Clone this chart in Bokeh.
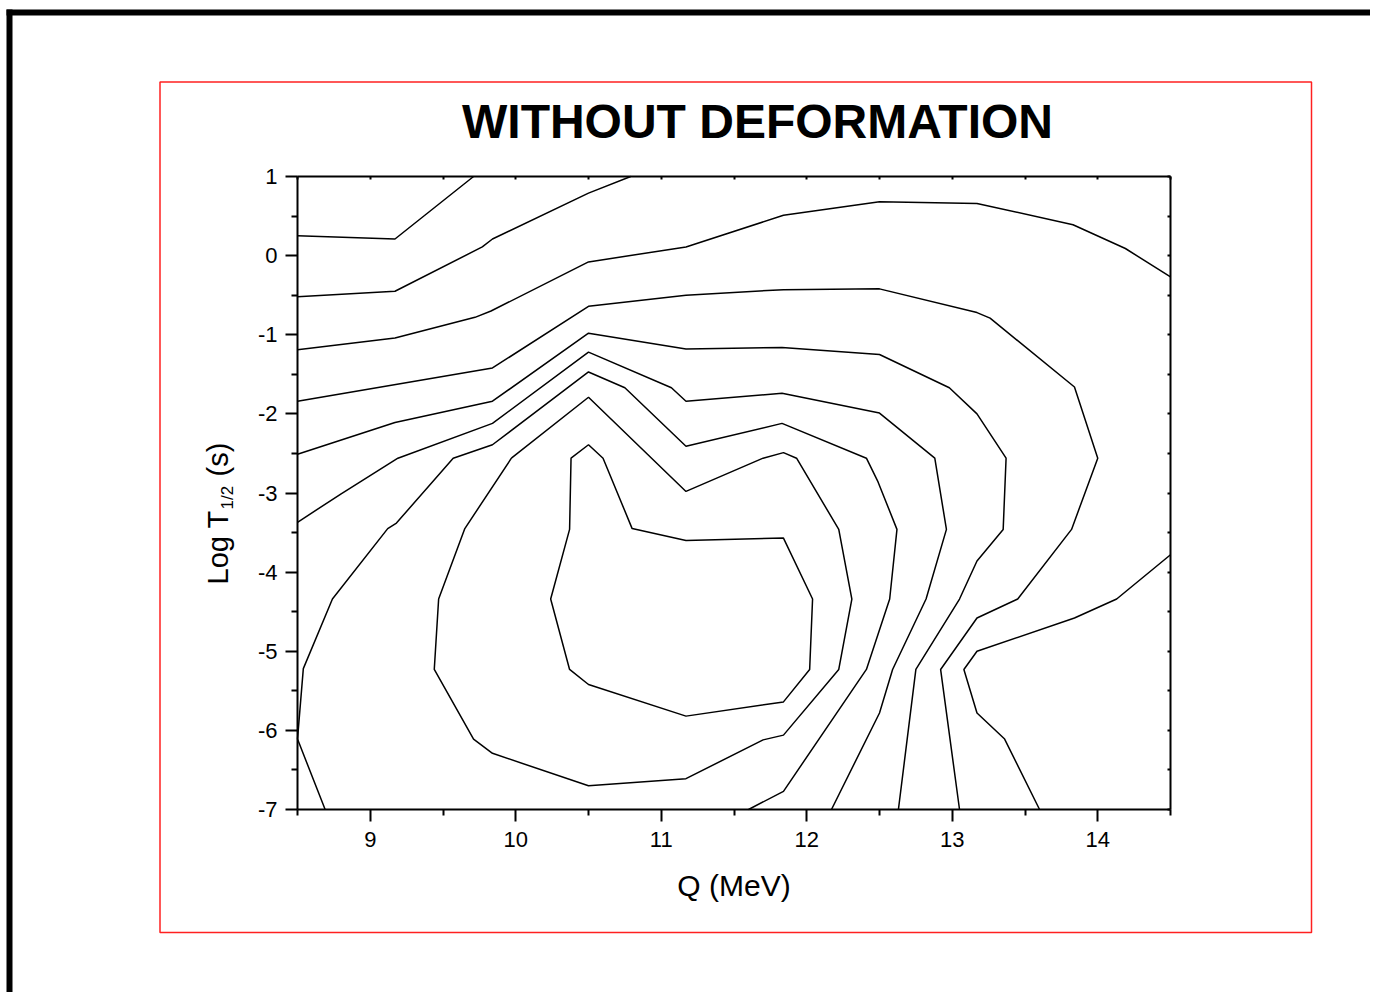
import math
from bokeh.plotting import figure
from bokeh.models import LinearAxis, FixedTicker, Range1d, CustomJSTickFormatter
from bokeh.core.properties import value
from bokeh.embed import file_html
from bokeh.resources import INLINE

# ---------------- data ----------------
TITLE = "WITHOUT DEFORMATION"
X_LABEL = "Q (MeV)"
Y_LABEL_MAIN = "Log T"
Y_LABEL_SUB = "1/2"
Y_LABEL_UNIT = "(s)"

Q_MIN, Q_MAX = 8.5, 14.5
LOGT_MIN, LOGT_MAX = -7.0, 1.0
X_MAJOR = [9, 10, 11, 12, 13, 14]
X_MINOR = [8.5, 9.5, 10.5, 11.5, 12.5, 13.5, 14.5]
Y_MAJOR = [-7, -6, -5, -4, -3, -2, -1, 0, 1]
Y_MINOR = [-6.5, -5.5, -4.5, -3.5, -2.5, -1.5, -0.5, 0.5]

# contour lines (Q in MeV, log T1/2 in s)
q_c1 = [8.50, 9.17, 9.71]
t_c1 = [0.25, 0.21, 1.00]

q_c2 = [8.50, 9.17, 9.77, 9.84, 10.50, 10.79]
t_c2 = [-0.52, -0.45, 0.11, 0.21, 0.79, 1.00]

q_c3 = [8.50, 9.17, 9.72, 9.83, 10.50, 11.17, 11.84, 12.50, 13.17, 13.83, 14.19, 14.50]
t_c3 = [-1.19, -1.04, -0.78, -0.70, -0.08, 0.11, 0.51, 0.68, 0.66, 0.39, 0.09, -0.27]

q_c4 = [8.50, 9.84, 10.50, 11.17, 11.84, 12.50, 13.17, 13.26, 13.84, 14.00, 13.82, 13.45, 13.17, 12.92, 13.05]
t_c4 = [-1.84, -1.42, -0.64, -0.50, -0.43, -0.42, -0.72, -0.79, -1.66, -2.56, -3.46, -4.34, -4.58, -5.23, -7.00]

q_c5 = [8.50, 9.17, 9.84, 10.50, 11.17, 11.83, 12.50, 12.98, 13.17, 13.37, 13.35, 13.17, 13.05, 12.75, 12.63]
t_c5 = [-2.51, -2.11, -1.84, -0.98, -1.18, -1.16, -1.25, -1.67, -2.00, -2.56, -3.46, -3.86, -4.34, -5.23, -7.00]

q_c6 = [8.50, 8.80, 9.19, 9.84, 10.50, 11.07, 11.17, 11.83, 12.50, 12.88, 12.96, 12.82, 12.59, 12.50, 12.17]
t_c6 = [-3.37, -3.01, -2.56, -2.12, -1.22, -1.67, -1.84, -1.74, -1.99, -2.56, -3.46, -4.34, -5.23, -5.78, -7.00]

q_c7 = [8.69, 8.50, 8.54, 8.74, 9.12, 9.18, 9.57, 9.84, 10.50, 10.75, 11.17, 11.83, 12.41, 12.49, 12.62, 12.57, 12.41, 11.84, 11.60]
t_c7 = [-7.00, -6.11, -5.22, -4.34, -3.45, -3.38, -2.56, -2.39, -1.47, -1.67, -2.41, -2.12, -2.56, -2.86, -3.46, -4.34, -5.23, -6.77, -7.00]

q_c8 = [9.97, 10.50, 11.17, 11.70, 11.84, 11.93, 12.22, 12.31, 12.22, 11.84, 11.70, 11.17, 10.50, 9.84, 9.71, 9.44, 9.47, 9.65, 9.97]
t_c8 = [-2.56, -1.79, -2.98, -2.56, -2.49, -2.56, -3.46, -4.34, -5.23, -6.06, -6.12, -6.61, -6.70, -6.29, -6.11, -5.23, -4.34, -3.45, -2.56]

q_c9 = [10.37, 10.38, 10.50, 10.60, 10.80, 11.17, 11.84, 12.04, 12.02, 11.84, 11.17, 10.50, 10.37, 10.24, 10.37]
t_c9 = [-3.46, -2.56, -2.39, -2.56, -3.45, -3.60, -3.57, -4.34, -5.23, -5.64, -5.82, -5.42, -5.23, -4.34, -3.46]

q_c10 = [14.50, 14.13, 13.84, 13.17, 13.08, 13.17, 13.36, 13.60]
t_c10 = [-3.78, -4.34, -4.58, -5.00, -5.23, -5.78, -6.11, -7.00]

CONTOURS = [(q_c1, t_c1), (q_c2, t_c2), (q_c3, t_c3), (q_c4, t_c4), (q_c5, t_c5),
            (q_c6, t_c6), (q_c7, t_c7), (q_c8, t_c8), (q_c9, t_c9), (q_c10, t_c10)]

# ---------------- layout (page pixels) ----------------
W, H = 1370, 992          # canvas size
OX, OY = 0, 0             # canvas origin on the page
FL, FR, FT, FB = 297, 1170, 176, 809   # plot box on the page
SX = (FR - FL) / (Q_MAX - Q_MIN)
SY = (FB - FT) / (LOGT_MAX - LOGT_MIN)


def dx(px):
    return Q_MIN + (px - FL) / SX


def dy(py):
    return LOGT_MAX - (py - FT) / SY


FONT = "Liberation Sans"

p = figure(width=W, height=H, output_backend="svg", toolbar_location=None,
           title=None, x_axis_type=None, y_axis_type=None,
           x_range=Range1d(dx(OX), dx(OX + W)), y_range=Range1d(dy(OY + H), dy(OY)),
           min_border=0, min_border_left=0, min_border_right=0,
           min_border_top=0, min_border_bottom=0)
p.outline_line_color = None
p.background_fill_color = "white"
p.border_fill_color = "white"

# page decorations: black page edges and red graph-page rectangle
p.quad(left=[dx(6)], right=[dx(OX + W)], top=[dy(9)], bottom=[dy(15)],
       fill_color="black", line_color=None)
p.quad(left=[dx(6)], right=[dx(12)], top=[dy(9)], bottom=[dy(OY + H)],
       fill_color="black", line_color=None)
p.quad(left=[dx(159.5)], right=[dx(1311)], top=[dy(81.5)], bottom=[dy(932)],
       fill_color=None, line_color="#ff2020", line_width=1.5)

# contour lines
for qs, ts in CONTOURS:
    p.line(qs, ts, line_color="black", line_width=1.5)

blank = CustomJSTickFormatter(code="return ''")


def style(ax):
    ax.axis_line_color = "black"
    ax.axis_line_width = 2
    ax.major_tick_line_color = "black"
    ax.minor_tick_line_color = "black"
    ax.major_tick_line_width = 2
    ax.minor_tick_line_width = 2
    ax.major_label_text_color = "black"
    ax.major_label_text_font = FONT
    ax.major_label_text_font_size = "22px"
    ax.axis_label_text_color = "black"
    ax.axis_label_text_font = FONT
    ax.axis_label_text_font_style = "normal"
    ax.axis_label_text_font_size = "30px"


# bottom axis
xb = LinearAxis(fixed_location=LOGT_MIN, bounds=(Q_MIN, Q_MAX),
                ticker=FixedTicker(ticks=X_MAJOR, minor_ticks=X_MINOR),
                axis_label=X_LABEL,
                major_label_overrides={v: str(v) for v in X_MAJOR})
style(xb)
xb.major_tick_out, xb.major_tick_in = 12, 0
xb.minor_tick_out, xb.minor_tick_in = 6, 0
xb.major_label_standoff = 10
xb.axis_label_standoff = 19
p.add_layout(xb, "below")

# left axis
yl = LinearAxis(fixed_location=Q_MIN, bounds=(LOGT_MIN, LOGT_MAX),
                ticker=FixedTicker(ticks=Y_MAJOR, minor_ticks=Y_MINOR),
                major_label_overrides={v: str(v) for v in Y_MAJOR})
style(yl)
yl.major_tick_out, yl.major_tick_in = 12, 0
yl.minor_tick_out, yl.minor_tick_in = 6, 0
yl.major_label_standoff = 8
p.add_layout(yl, "left")

# top axis (ticks inside, no labels)
xt = LinearAxis(fixed_location=LOGT_MAX, bounds=(Q_MIN, Q_MAX),
                ticker=FixedTicker(ticks=sorted(X_MAJOR + X_MINOR)), formatter=blank)
style(xt)
xt.major_tick_out, xt.major_tick_in = 0, 3
xt.minor_tick_out, xt.minor_tick_in = 0, 0
p.add_layout(xt, "above")

# right axis (ticks inside, no labels)
yr = LinearAxis(fixed_location=Q_MAX, bounds=(LOGT_MIN, LOGT_MAX),
                ticker=FixedTicker(ticks=sorted(Y_MAJOR + Y_MINOR)), formatter=blank)
style(yr)
yr.major_tick_out, yr.major_tick_in = 0, 3
yr.minor_tick_out, yr.minor_tick_in = 0, 0
p.add_layout(yr, "right")

# title
p.text(x=[dx(757)], y=[dy(121)], text=[TITLE],
       text_font=value(FONT), text_font_style="bold", text_font_size="48px",
       text_align="center", text_baseline="alphabetic", text_color="black")

# y axis label: "Log T" with subscript "1/2" and "(s)"
ang = math.pi / 2
p.text(x=[dx(217)], y=[dy(584)], text=[Y_LABEL_MAIN], angle=ang,
       text_font=value(FONT), text_font_size="29px",
       text_align="left", text_baseline="alphabetic", text_color="black")
p.text(x=[dx(227)], y=[dy(509)], text=[Y_LABEL_SUB], angle=ang,
       text_font=value(FONT), text_font_size="17px",
       text_align="left", text_baseline="alphabetic", text_color="black")
p.text(x=[dx(217)], y=[dy(476)], text=[Y_LABEL_UNIT], angle=ang,
       text_font=value(FONT), text_font_size="29px",
       text_align="left", text_baseline="alphabetic", text_color="black")

open("out.html", "w").write(file_html(p, INLINE))
